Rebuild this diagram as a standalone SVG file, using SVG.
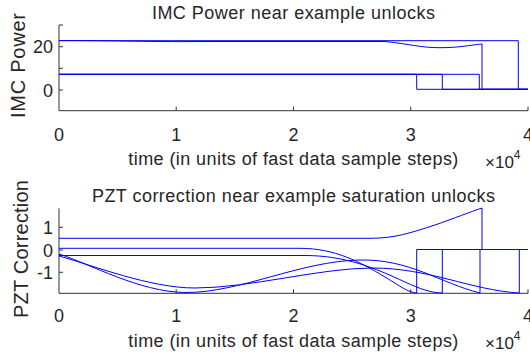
<svg xmlns="http://www.w3.org/2000/svg" width="530" height="358" viewBox="0 0 530 358">
<style>
text{font-family:"Liberation Sans",Arial,Helvetica,sans-serif;fill:#262626}
.t{font-size:18px;text-anchor:middle}
.tk{font-size:18px;text-anchor:middle}
.yt{font-size:18px;text-anchor:end}
.yl{font-size:20px;text-anchor:middle}
.ex{font-size:17px}
.ax{stroke:#333;stroke-width:1;fill:none}
.tr{stroke:#0000ff;stroke-width:1;fill:none}
</style>
<rect width="530" height="358" fill="#fff"/>
<g id="top-plot">
<g id="top-axes">
<path class="ax" d="M59,25 V110.7 H528"/>
<path class="ax" d="M59,25 h4 M59,46.7 h4 M59,68.3 h4 M59,90 h4 M176.2,110.7 v-4 M293.5,110.7 v-4 M410.7,110.7 v-4 M528,110.7 v-4"/>
<text class="tk" x="59" y="141">0</text>
<text class="tk" x="176.2" y="141">1</text>
<text class="tk" x="293.5" y="141">2</text>
<text class="tk" x="410.7" y="141">3</text>
<text class="tk" x="528" y="141">4</text>
<text class="yt" x="53" y="53">20</text>
<text class="yt" x="53" y="96.5">0</text>
<text class="t" x="293.4" y="19" textLength="283" lengthAdjust="spacing">IMC Power near example unlocks</text>
<text class="t" x="293.3" y="165" textLength="330" lengthAdjust="spacing">time (in units of fast data sample steps)</text>
<text class="ex" x="485" y="168">×10<tspan dy="-9" style="font-size:12px">4</tspan></text>
<text class="yl" transform="translate(25,65.5) rotate(-90)" textLength="105" lengthAdjust="spacing">IMC Power</text>
</g>
<g id="top-traces">
<path class="tr" d="M59,74.3 H416.7 V89.3 H528"/>
<path class="tr" d="M59,74.3 H442.3 V89.3 H528"/>
<path class="tr" d="M59,74.3 H479.3 V89.3 H528"/>
<path class="tr" d="M59,40.5 C120,40.5 150,42 200,41.5 H385 C410,44 420,47.7 440,47.7 C460,47.7 470,45 482,44 V89.3 H528"/>
<path class="tr" d="M59,40.7 H518.3 V89.3 H528"/>
</g>
</g>
<g id="bottom-plot">
<g id="bottom-axes">
<path class="ax" d="M59,208.3 V293.3 H528"/>
<path class="ax" d="M59,227.3 h4 M59,250 h4 M59,272.3 h4 M176.2,293.3 v-4 M293.5,293.3 v-4 M410.7,293.3 v-4 M528,293.3 v-4"/>
<text class="tk" x="59" y="322">0</text>
<text class="tk" x="176.2" y="322">1</text>
<text class="tk" x="293.5" y="322">2</text>
<text class="tk" x="410.7" y="322">3</text>
<text class="tk" x="528" y="322">4</text>
<text class="yt" x="53" y="233.5">1</text>
<text class="yt" x="53" y="256.5">0</text>
<text class="yt" x="53" y="278.5">-1</text>
<text class="t" x="293.4" y="201.7" textLength="403" lengthAdjust="spacing">PZT correction near example saturation unlocks</text>
<text class="t" x="293.3" y="347" textLength="330" lengthAdjust="spacing">time (in units of fast data sample steps)</text>
<text class="ex" x="485" y="349">×10<tspan dy="-9" style="font-size:12px">4</tspan></text>
<text class="yl" transform="translate(28,249) rotate(-90)" textLength="138" lengthAdjust="spacing">PZT Correction</text>
</g>
<g id="bottom-traces">
<path class="tr" d="M59,238.3 H370 C395,238.3 410,233 435,225 C455,218 470,212 482,208 V249.5 H528"/>
<path class="tr" d="M59,248.3 H300 C335,248.3 360,262 385,277 C400,286 408,292.5 416.7,293 V249.5 H528"/>
<path class="tr" d="M59,255.5 H305 C345,255.5 375,268 405,282 C420,289 432,293 442.3,293 V249.5 H528"/>
<path class="tr" d="M59,254 C90,264 140,292 185,292.5 C240,293 300,261 360,260 C410,259 440,283 480,293 V249.5 H528"/>
<path class="tr" d="M59,256 C95,266 150,288 195,288 C250,288 320,268 372,268 C430,268 470,290 519.3,293 V249.5 H528"/>
</g>
</g>
</svg>
